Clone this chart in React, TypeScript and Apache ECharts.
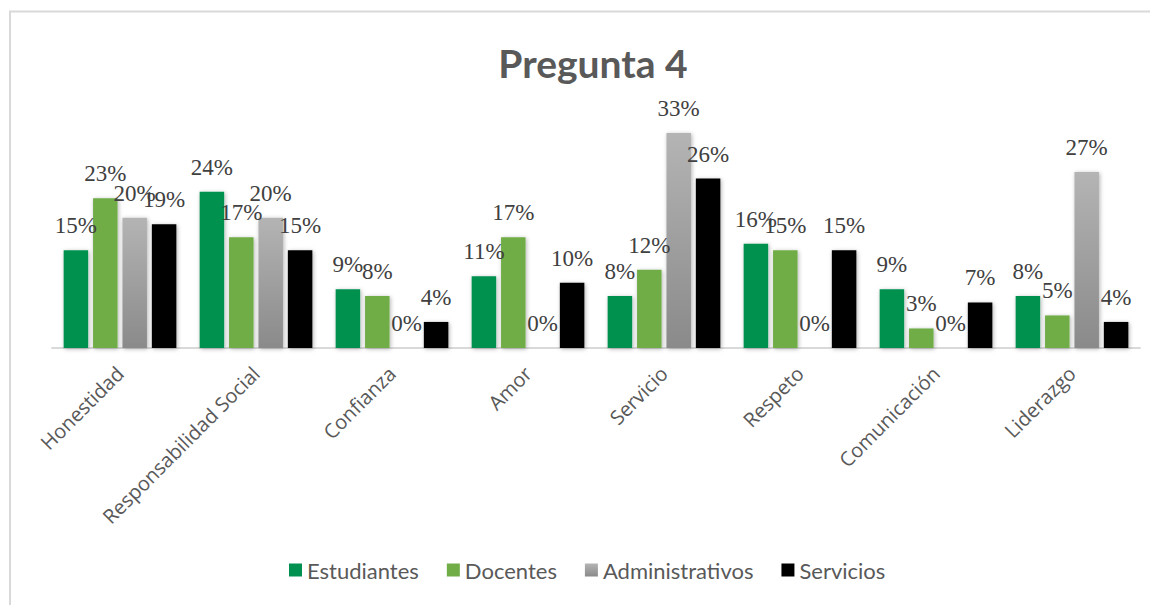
import React, { useEffect, useRef } from "react";
import * as echarts from "echarts";

const categories = [
  "Honestidad",
  "Responsabilidad Social",
  "Confianza",
  "Amor",
  "Servicio",
  "Respeto",
  "Comunicación",
  "Liderazgo",
];
const estudiantes = [15, 24, 9, 11, 8, 16, 9, 8];
const docentes = [23, 17, 8, 17, 12, 15, 3, 5];
const administrativos = [20, 20, 0, 0, 33, 0, 0, 27];
const servicios = [19, 15, 4, 10, 26, 15, 7, 4];
const seriesNames = ["Estudiantes", "Docentes", "Administrativos", "Servicios"];

export default function App() {
  const ref = useRef<HTMLDivElement>(null);
  useEffect(() => {
    if (!ref.current) return;
    const chart = echarts.init(ref.current, undefined, { renderer: "svg" });
    const adminGrad = new echarts.graphic.LinearGradient(0, 0, 0, 1, [
      { offset: 0, color: "#b4b4b4" },
      { offset: 1, color: "#8a8a8a" },
    ]);
    const colors: any[] = ["#009150", "#70ad47", adminGrad, "#000000"];
    const datas = [estudiantes, docentes, administrativos, servicios];
    const label = {
      show: true,
      position: "top",
      distance: 13,
      formatter: "{c}%",
      fontFamily: "Liberation Serif",
      fontSize: 23,
      color: "#404040",
    };
    chart.setOption({
      animation: false,
      backgroundColor: "#ffffff",
      title: {
        text: "Pregunta 4",
        left: 588,
        textAlign: "center",
        top: 38,
        textStyle: {
          fontFamily: "Lato",
          fontWeight: "bold",
          fontSize: 39,
          color: "#595959",
        },
      },
      legend: {
        left: 289,
        top: 559,
        padding: 0,
        itemWidth: 13,
        itemHeight: 13,
        itemGap: 28,
        icon: "rect",
        textStyle: {
          fontFamily: "Lato",
          fontSize: 22,
          color: "#595959",
        },
        data: seriesNames,
      },
      grid: { left: 52, right: 10, top: 87.4, bottom: 257 },
      xAxis: {
        type: "category",
        data: categories,
        axisLine: { lineStyle: { color: "#d9d9d9", width: 2 } },
        axisTick: { show: false },
        axisLabel: {
          interval: 0,
          rotate: 45,
          margin: 22,
          fontFamily: "Open Sans",
          fontSize: 20,
          color: "#595959",
        },
      },
      yAxis: {
        type: "value",
        min: 0,
        max: 40,
        show: false,
        splitLine: { show: false },
      },
      graphic: [
        {
          type: "rect",
          shape: { x: 10, y: 11.5, width: 1200, height: 700 },
          style: { fill: "none", stroke: "#d9d9d9", lineWidth: 2 },
          silent: true,
        },
      ],
      series: datas.map((d, i) => ({
        name: seriesNames[i],
        type: "bar",
        data: d,
        barWidth: 24.5,
        barGap: "20%",
        itemStyle: {
          color: colors[i],
          shadowBlur: 4,
          shadowColor: "rgba(0,0,0,0.3)",
          shadowOffsetX: 1,
          shadowOffsetY: 1,
        },
        label,
      })),
    });
    return () => chart.dispose();
  }, []);
  return (
    <div
      ref={ref}
      style={{ position: "fixed", left: 0, top: 0, width: 1150, height: 605 }}
    />
  );
}
